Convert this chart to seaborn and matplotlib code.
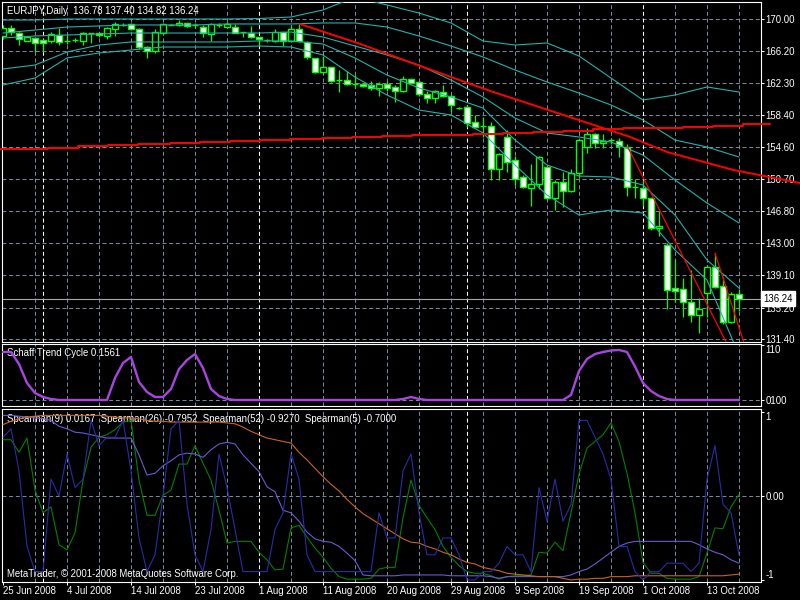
import matplotlib
matplotlib.use("Agg")
import matplotlib.pyplot as plt
import matplotlib.transforms as mtrans
import seaborn as sns

# ---- daily EURJPY candles, 25 Jun 2008 .. 17 Oct 2008 (bar index = position on chart)
opens = [167.95, 168.88, 168.28, 167.38, 167.74, 167.43, 167.38, 168.07, 167.35, 167.47,
         167.35, 168.28, 168.28, 167.95, 168.79, 169.28, 169.36, 168.76, 166.66, 166.18,
         168.28, 169.28, 169.28, 169.48, 169.22, 169.07, 168.15, 169.28, 169.07, 169.07,
         168.40, 168.35, 167.79, 167.47, 167.38, 168.40, 167.38, 168.76, 167.26, 165.26,
         163.64, 164.17, 162.64, 162.64, 162.16, 162.16, 162.04, 161.71, 162.16, 161.76,
         161.35, 162.73, 162.44, 160.95, 160.43, 161.23, 160.75, 159.30, 159.35, 157.54,
         157.13, 157.13, 151.87, 155.80, 152.99, 150.90, 149.58, 150.06, 152.11, 148.37,
         150.30, 149.29, 151.46, 154.52, 156.09, 155.01, 155.40, 155.32, 154.52, 149.70,
         149.58, 148.37, 144.75, 142.74, 137.51, 137.39, 135.83, 134.29, 136.91, 140.12,
         137.79, 133.41, 136.78]
highs = [169.28, 169.28, 168.47, 167.83, 167.86, 167.55, 168.47, 168.88, 168.07, 167.67,
         168.47, 168.35, 168.35, 169.07, 169.67, 169.48, 169.48, 168.88, 166.74, 168.79,
         169.48, 169.34, 169.88, 169.55, 169.48, 169.28, 169.48, 169.48, 169.67, 169.40,
         168.47, 169.16, 167.86, 167.55, 168.76, 168.47, 169.28, 169.40, 167.35, 165.33,
         165.54, 164.25, 163.85, 163.73, 163.24, 162.24, 162.56, 162.44, 162.52, 162.04,
         163.12, 162.80, 162.52, 161.35, 161.44, 162.04, 160.95, 159.42, 159.63, 158.42,
         158.21, 157.61, 153.80, 156.61, 153.47, 151.18, 152.51, 153.47, 152.18, 150.58,
         151.58, 151.87, 155.50, 156.82, 156.21, 156.13, 155.61, 155.61, 154.92, 150.66,
         150.58, 148.41, 146.84, 143.02, 141.01, 138.72, 139.72, 136.31, 140.33, 141.74,
         138.92, 137.11, 137.40]
lows = [167.59, 168.07, 166.86, 167.35, 165.98, 166.06, 167.07, 166.86, 166.95, 167.26,
        166.86, 167.07, 167.86, 167.55, 167.95, 169.19, 168.67, 166.34, 165.26, 165.93,
        168.19, 169.22, 169.16, 169.00, 168.88, 167.86, 167.35, 169.07, 169.00, 168.28,
        167.86, 167.67, 166.86, 167.19, 167.19, 166.74, 167.30, 167.26, 165.17, 163.52,
        163.52, 162.44, 161.23, 162.04, 161.64, 161.76, 161.44, 160.71, 161.31, 160.02,
        161.23, 162.24, 160.71, 159.83, 159.90, 160.63, 158.82, 159.14, 157.01, 156.94,
        155.80, 150.58, 150.58, 151.58, 149.98, 149.58, 147.48, 149.46, 148.29, 146.96,
        147.36, 149.17, 150.78, 153.80, 154.40, 154.40, 154.92, 153.39, 148.65, 148.37,
        147.44, 144.55, 143.86, 134.98, 135.90, 134.09, 133.49, 132.16, 134.09, 137.52,
        133.21, 133.33, 134.82]
closes = [168.91, 168.40, 167.55, 167.79, 167.07, 167.07, 168.15, 167.26, 167.33, 167.45,
          168.28, 168.27, 168.03, 168.88, 169.36, 169.27, 168.76, 166.66, 166.18, 168.40,
          169.36, 169.26, 169.55, 169.16, 169.24, 168.28, 169.36, 169.27, 169.40, 168.35,
          168.39, 167.79, 167.55, 167.46, 168.40, 167.38, 168.76, 167.38, 165.38, 163.64,
          164.17, 162.56, 162.63, 162.16, 162.15, 161.92, 161.71, 162.16, 161.71, 161.35,
          162.73, 162.32, 160.92, 160.43, 161.35, 160.75, 159.63, 159.29, 157.49, 157.01,
          157.12, 151.87, 153.68, 152.71, 150.66, 149.70, 150.06, 153.32, 148.37, 150.30,
          149.29, 151.39, 155.40, 156.09, 155.01, 155.32, 155.39, 154.68, 149.70, 149.69,
          148.37, 144.75, 145.03, 137.31, 137.23, 135.83, 134.29, 134.98, 140.12, 137.71,
          133.41, 136.79, 136.24]

# ---- bollinger style bands, read every 4th bar
band_bars = [0, 4, 8, 12, 16, 20, 24, 28, 32, 36, 40, 44, 48, 52, 56, 60, 64, 68, 72, 76, 80, 84, 88, 92]
upper2 = [169.88, 169.88, 170.00, 170.00, 170.00, 170.00, 170.00, 170.00, 170.06, 170.24, 171.09, 172.65,
          171.69, 170.72, 169.52, 167.35, 166.86, 167.11, 165.54, 162.88, 160.23, 160.83, 161.80, 161.19]
upper1 = [168.31, 168.67, 169.03, 169.16, 169.28, 169.28, 169.28, 169.40, 169.40, 169.40, 169.52, 169.52,
          169.03, 167.95, 166.74, 165.42, 163.85, 162.40, 161.07, 159.63, 157.82, 155.40, 154.56, 153.35]
middle = [167.71, 167.95, 168.07, 168.19, 168.31, 168.31, 168.31, 168.31, 168.31, 168.43, 167.83, 166.74,
          165.66, 164.45, 162.64, 160.59, 158.06, 156.25, 155.77, 155.16, 153.59, 150.58, 147.80, 145.39]
lower1 = [163.97, 164.45, 166.02, 166.86, 167.23, 167.23, 167.23, 167.23, 167.35, 167.35, 166.98, 165.30,
          163.24, 161.68, 160.59, 159.26, 155.40, 152.39, 151.06, 150.94, 149.98, 146.36, 140.93, 137.55]
lower2 = [162.04, 162.88, 165.30, 165.90, 166.26, 166.62, 166.62, 166.62, 166.74, 166.62, 165.66, 163.00,
          160.83, 159.02, 158.42, 156.25, 152.39, 148.77, 146.36, 146.96, 146.60, 142.14, 138.52, 129.47]

# ---- red lines
step_x = [-0.5, 5.6, 9.4, 13.1, 16.9, 20.9, 24.6, 28.4, 32.1, 35.9, 39.9, 43.6, 47.4,
          51.1, 55.0, 58.8, 62.5, 66.3, 70.0, 73.8, 77.5, 81.3, 85.0, 88.8, 92.5, 95.9]
step_y = [154.28, 154.48, 154.68, 154.80, 154.92, 155.08, 155.20, 155.32, 155.40, 155.56, 155.68, 155.77, 155.86,
          155.95, 156.03, 156.15, 156.28, 156.39, 156.55, 156.70, 156.82, 156.89, 157.01, 157.13, 157.33, 157.33]
slow_x = [37.1, 44.3, 52.5, 60.9, 69.3, 78.4, 83.0, 91.3, 99.6]
slow_y = [169.40, 167.11, 164.21, 161.32, 158.66, 155.77, 153.96, 151.79, 150.22]
trend1_x = [78.1, 91.5]
trend1_y = [154.56, 128.90]
trend2_x = [89.0, 92.75]
trend2_y = [141.77, 130.56]
last_price = 136.24

# ---- Schaff Trend Cycle
stc = [96, 96, 72, 34, 14, 6, 2, 0, 0, 0, 0, 0, 0, 0, 44, 74, 86, 36, 16, 6,
       6, 22, 62, 80, 92, 64, 22, 8, 2, 0, 0, 0, 0, 0, 0, 0, 0, 0, 0, 0,
       0, 0, 0, 0, 0, 0, 0, 0, 0, 0, 2, 6, 2, 0, 0, 0, 0, 0, 0, 0,
       0, 0, 0, 0, 0, 0, 0, 0, 0, 0, 0, 10, 58, 82, 92, 96, 99, 100, 96, 67,
       34, 18, 8, 2, 0, 0, 0, 0, 0, 0, 0, 0, 0.16]

# ---- Spearman rank correlations
sp9 = [0.67, 0.67, 0.52, 0.69, 0.07, -0.20, -0.13, -0.58, -0.64, -0.44,
       0.19, 0.58, 0.70, 0.73, 0.79, 0.88, 0.90, 0.19, -0.23, -0.23,
       0.01, 0.07, 0.38, 0.38, 0.60, 0.39, 0.19, -0.17, -0.56, -0.54,
       -0.54, -0.54, -0.67, -0.76, -0.88, -0.87, -0.38, -0.35, -0.49, -0.62,
       -0.73, -0.86, -0.96, -0.99, -0.99, -0.99, -0.98, -0.87, -0.85, -0.85,
       -0.26, 0.19, -0.11, -0.26, -0.40, -0.60, -0.73, -0.83, -0.90, -0.92,
       -0.92, -0.95, -0.99, -0.96, -0.95, -0.95, -0.94, -0.67, -0.68, -0.55,
       -0.65, -0.20, 0.26, 0.57, 0.65, 0.73, 0.87, 0.65, 0.27, -0.20,
       -0.79, -0.92, -0.92, -0.98, -0.99, -0.99, -0.99, -0.96, -0.68, -0.38,
       -0.39, -0.13, 0.02]
sp26 = [0.96, 0.96, 0.95, 0.94, 0.93, 0.92, 0.90, 0.83, 0.80, 0.76,
        0.75, 0.73, 0.71, 0.69, 0.69, 0.69, 0.69, 0.49, 0.25, 0.27,
        0.36, 0.42, 0.49, 0.51, 0.50, 0.46, 0.55, 0.62, 0.64, 0.62,
        0.49, 0.39, 0.29, 0.11, 0.05, -0.17, -0.20, -0.30, -0.43, -0.51,
        -0.54, -0.55, -0.60, -0.68, -0.77, -0.94, -0.95, -0.95, -0.95, -0.95,
        -0.94, -0.94, -0.94, -0.94, -0.94, -0.94, -0.95, -0.95, -0.95, -0.95,
        -0.95, -0.96, -0.98, -0.96, -0.96, -0.96, -0.96, -0.96, -0.96, -0.96,
        -0.96, -0.94, -0.90, -0.87, -0.81, -0.74, -0.67, -0.60, -0.56, -0.54,
        -0.54, -0.54, -0.54, -0.54, -0.54, -0.54, -0.54, -0.58, -0.63, -0.67,
        -0.70, -0.76, -0.80]
sp52 = [0.85, 0.89, 0.92, 0.94, 0.95, 0.96, 0.96, 0.96, 0.96, 0.96,
        0.96, 0.96, 0.96, 0.95, 0.94, 0.93, 0.93, 0.92, 0.90, 0.89,
        0.89, 0.88, 0.88, 0.88, 0.88, 0.88, 0.88, 0.88, 0.87, 0.86,
        0.82, 0.77, 0.73, 0.69, 0.67, 0.65, 0.63, 0.52, 0.43, 0.33,
        0.23, 0.14, 0.06, -0.04, -0.13, -0.21, -0.27, -0.33, -0.39, -0.45,
        -0.51, -0.55, -0.56, -0.60, -0.63, -0.67, -0.70, -0.75, -0.79, -0.81,
        -0.85, -0.87, -0.89, -0.92, -0.93, -0.94, -0.95, -0.96, -0.96, -0.96,
        -0.98, -1.00, -0.99, -0.99, -0.98, -0.98, -0.96, -0.96, -0.96, -0.95,
        -0.95, -0.95, -0.95, -0.95, -0.95, -0.95, -0.95, -0.95, -0.95, -0.95,
        -0.95, -0.94, -0.93]
sp5 = [0.7, 0.8, 0.3, -0.6, -0.9, -0.9, 0.2, 0.0, 0.5, 0.1,
       0.2, 0.9, 0.6, 0.7, 0.7, 0.9, 0.3, -0.5, -0.9, -0.7,
       0.0, 0.8, 0.9, -0.1, -0.7, -0.9, -0.4, 0.5, 0.1, -0.4,
       -0.9, -0.9, -0.9, -0.9, -0.4, -0.2, 0.5, 0.2, -0.7, -0.9,
       -0.9, -0.9, -0.9, -0.9, -0.9, -0.9, -0.9, -0.2, -0.5, -0.5,
       0.3, 0.5, -0.2, -0.7, -0.7, -0.5, -0.5, -0.7, -1.0, -1.0,
       -0.9, -0.9, -0.8, -0.6, -0.7, -0.7, -0.9, 0.1, -0.3, 0.2,
       -0.3, -0.1, 0.9, 0.9, 0.7, 0.5, 0.2, -0.6, -0.6, -0.9,
       -1.0, -0.9, -0.9, -0.8, -0.8, -0.8, -0.9, -0.8, 0.2, 0.6,
       -0.1, -0.2, -0.7]

# ---- axis text
price_ticks = [170.00, 166.20, 162.30, 158.40, 154.60, 150.70, 146.80, 143.00, 139.10, 135.20, 131.40]
stc_labels = ["0100", "110"]
date_pos = [0, 8, 16, 24, 32, 40, 48, 56, 64, 72, 80, 88]
date_labels = ["25 Jun 2008", "4 Jul 2008", "14 Jul 2008", "23 Jul 2008", "1 Aug 2008", "11 Aug 2008",
               "20 Aug 2008", "29 Aug 2008", "9 Sep 2008", "19 Sep 2008", "1 Oct 2008", "13 Oct 2008"]
grid_bars = [4, 8, 12, 16, 20, 24, 28, 36, 40, 44, 48, 52, 56, 60, 64, 68, 72, 76, 84, 88, 92]
month_bars = [5, 32, 58, 80]

sns.set_theme(style="dark", rc={"axes.facecolor": "black", "figure.facecolor": "black",
                                "axes.edgecolor": "white", "text.color": "white",
                                "xtick.color": "white", "ytick.color": "white"})
plt.rcParams["font.family"] = ["Liberation Sans", "DejaVu Sans"]
FS = 6.9
GRID = "#778899"
DASH = (0, (3.8, 2.6))

fig = plt.figure(figsize=(8, 6), dpi=100)
ax1 = fig.add_axes([2 / 800, 1 - 342 / 600, 759 / 800, 340 / 600])
ax2 = fig.add_axes([2 / 800, 1 - 406 / 600, 759 / 800, 62 / 600])
ax3 = fig.add_axes([2 / 800, 1 - 582 / 600, 759 / 800, 173 / 600])

for ax in (ax1, ax2, ax3):
    ax.set_xlim(-0.125, 94.75)
    for s in ax.spines.values():
        s.set_color("white")
        s.set_linewidth(0.8)
    for b in grid_bars:
        ax.axvline(b, color=GRID, lw=0.75, ls=DASH, zorder=0.5)
    for b in month_bars:
        ax.axvline(b, color="white", lw=0.75, ls=DASH, zorder=0.6)
    ax.yaxis.tick_right()
    ax.tick_params(axis="y", right=True, left=False, length=2.2, width=0.75, pad=0.8,
                   labelsize=FS, colors="white")
    ax.tick_params(axis="x", bottom=False, labelbottom=False)
    ax.set_xlabel("")
    ax.set_ylabel("")

# main price window
ax1.set_ylim(131.04, 172.05)
for p in price_ticks:
    ax1.axhline(p, color=GRID, lw=0.75, ls=DASH, zorder=0.5)
ax1.set_yticks(price_ticks)
ax1.set_yticklabels(["%.2f" % p for p in price_ticks])

for i in range(len(opens)):
    o, h, l, c = opens[i], highs[i], lows[i], closes[i]
    ax1.vlines(i, l, h, color="#00ff00", lw=0.9, zorder=2)
    body = c - o if abs(c - o) > 0.02 else 0.01
    ax1.bar(i, body, bottom=o, width=0.64, color="white" if c < o else "black",
            edgecolor="#00ff00", linewidth=1.0, zorder=3)

teal = "#20b2aa"
for band in (upper2, upper1, middle, lower1, lower2):
    sns.lineplot(x=band_bars, y=band, ax=ax1, color=teal, lw=0.8, estimator=None, sort=False, zorder=4)

sns.lineplot(x=step_x, y=step_y, ax=ax1, color="red", lw=1.4, estimator=None, sort=False,
             drawstyle="steps-post", zorder=5)
ax1.lines[-1].set_clip_on(False)
sns.lineplot(x=slow_x, y=slow_y, ax=ax1, color="red", lw=1.4, estimator=None, sort=False, zorder=5)
ax1.lines[-1].set_clip_on(False)
sns.lineplot(x=trend1_x, y=trend1_y, ax=ax1, color="red", lw=0.9, estimator=None, sort=False, zorder=5)
sns.lineplot(x=trend2_x, y=trend2_y, ax=ax1, color="red", lw=0.9, estimator=None, sort=False, zorder=5)

ax1.axhline(last_price, color="#a8a8a8", lw=0.8, zorder=1)
blend1 = mtrans.blended_transform_factory(ax1.transAxes, ax1.transData)
ax1.text(1 + 2.5 / 759, last_price, "%.2f" % last_price, transform=blend1, color="black",
         fontsize=FS, va="center", ha="left", zorder=10,
         bbox=dict(boxstyle="square,pad=0.25", fc="white", ec="white"))
ax1.text(5 / 759, 0.9735, "EURJPY,Daily  %.2f %.2f %.2f %.2f" % (opens[-1], highs[-1], lows[-1], closes[-1]),
         transform=ax1.transAxes, color="white", fontsize=FS, va="center", ha="left", zorder=6)

# Schaff Trend Cycle window
bars = list(range(len(stc)))
ax2.set_ylim(-12, 112)
ax2.axhline(0, color=GRID, lw=0.75, ls=DASH, zorder=0.5)
sns.lineplot(x=bars, y=stc, ax=ax2, color="#a845e0", lw=1.7, estimator=None, sort=False, zorder=3)
ax2.set_yticks([0, 110])
ax2.set_yticklabels(stc_labels)
ax2.get_yticklabels()[1].set_va("top")
ax2.text(5 / 759, 0.855, "Schaff Trend Cycle %.4f" % 0.1561, transform=ax2.transAxes,
         color="white", fontsize=FS, va="center", ha="left", zorder=1)

# Spearman window
ax3.set_ylim(-1.024, 1.036)
ax3.axhline(0, color=GRID, lw=0.75, ls=DASH, zorder=0.5)
for vals, col in ((sp9, "#008000"), (sp26, "#6a5acd"), (sp52, "#c8641e"), (sp5, "#2b2ba8")):
    sns.lineplot(x=bars, y=vals, ax=ax3, color=col, lw=0.8, estimator=None, sort=False, zorder=3)
ax3.set_yticks([-1, 0, 1])
ax3.set_yticklabels(["-1", "0.00", "1"])
ax3.get_yticklabels()[0].set_va("bottom")
ax3.get_yticklabels()[2].set_va("top")
ax3.text(5 / 759, 0.942,
         "Spearman(9) 0.0167  Spearman(26) -0.7952  Spearman(52) -0.9270  Spearman(5) -0.7000",
         transform=ax3.transAxes, color="white", fontsize=FS, va="center", ha="left", zorder=1)
ax3.text(5 / 759, 0.046, "MetaTrader, \u00a9 2001-2008 MetaQuotes Software Corp.",
         transform=ax3.transAxes, color="white", fontsize=FS, va="center", ha="left", zorder=1)

ax3.set_xticks(date_pos)
ax3.set_xticklabels(date_labels, ha="left")
ax3.tick_params(axis="x", bottom=True, labelbottom=True, direction="out", length=2.2, width=0.75,
                pad=0.6, labelsize=FS, colors="white")

fig.savefig("out.png", dpi=100, facecolor="black")
